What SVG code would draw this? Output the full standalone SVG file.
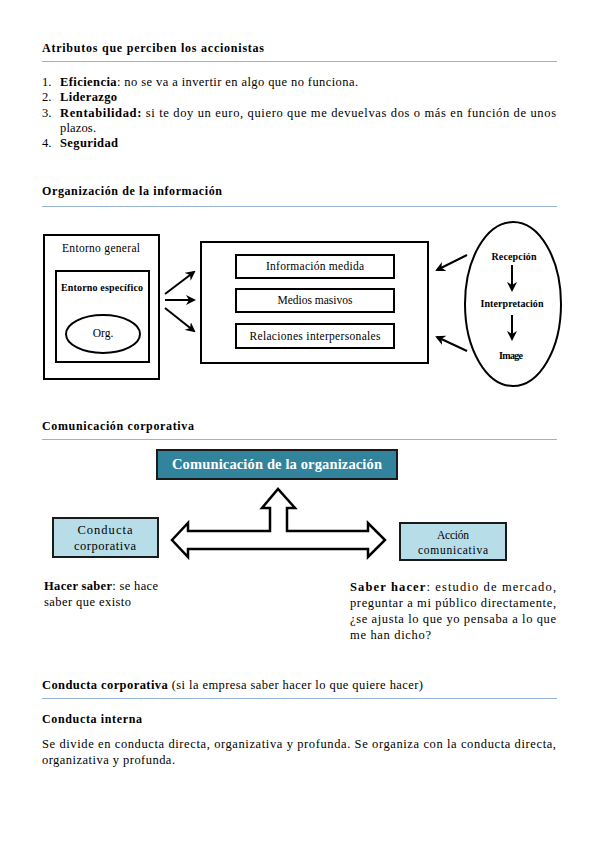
<svg xmlns="http://www.w3.org/2000/svg" width="599" height="848" viewBox="0 0 599 848">
<style>
text{font-family:"Liberation Serif","DejaVu Serif",serif;font-size:12.5px;fill:#000}
.b{font-weight:bold}
.h{font-weight:bold;font-size:12px}
.rule{stroke:#95b3d7;stroke-width:1.2}
.box{fill:#fff;stroke:#000;stroke-width:2}
.ln{stroke:#000;stroke-width:2;fill:none}
.sm{font-size:11.5px}
.xs{font-size:10px}
.c{text-anchor:middle}
</style>
<defs>
<marker id="ah" viewBox="0 0 10 10" refX="8" refY="5" markerWidth="5" markerHeight="5" orient="auto" markerUnits="strokeWidth">
<path d="M0,0 L10,5 L0,10 L3,5 Z" fill="#000"/>
</marker>
</defs>
<rect width="599" height="848" fill="#fff"/>

<!-- Section 1 -->
<text class="h" x="42" y="52" textLength="222">Atributos que perciben los accionistas</text>
<line class="rule" x1="42" y1="61.5" x2="557" y2="61.5"/>
<text x="42" y="86">1.</text>
<text x="60" y="86" textLength="298"><tspan class="b">Eficiencia</tspan>: no se va a invertir en algo que no funciona.</text>
<text x="42" y="101">2.</text>
<text x="60" y="101" class="b" textLength="57">Liderazgo</text>
<text x="42" y="117">3.</text>
<text x="60" y="117" textLength="496"><tspan class="b">Rentabilidad:</tspan> si te doy un euro, quiero que me devuelvas dos o más en función de unos</text>
<text x="60" y="132" textLength="36">plazos.</text>
<text x="42" y="147">4.</text>
<text x="60" y="147" class="b" textLength="58">Seguridad</text>

<!-- Section 2 -->
<text class="h" x="42" y="195" textLength="180">Organización de la información</text>
<line class="rule" x1="42" y1="206.5" x2="557" y2="206.5"/>

<g id="entorno-general">
<rect class="box" x="44" y="235" width="115" height="144"/>
<text class="sm c" x="101" y="252" textLength="78">Entorno general</text>
</g>
<g id="entorno-especifico">
<rect class="box" x="56" y="271" width="93" height="91"/>
<text class="xs c b" x="102" y="291" textLength="82">Entorno específico</text>
</g>
<g id="org">
<ellipse class="box" cx="103" cy="334" rx="37" ry="19"/>
<text class="sm c" x="103" y="337">Org.</text>
</g>

<g id="medios">
<rect class="box" x="201" y="242" width="227" height="121"/>
</g>
<g id="info-medida">
<rect class="box" x="236" y="255" width="158" height="23"/>
<text class="sm c" x="315" y="270" textLength="98">Información medida</text>
</g>
<g id="medios-masivos">
<rect class="box" x="236" y="289" width="158" height="23"/>
<text class="sm c" x="315" y="304" textLength="75">Medios masivos</text>
</g>
<g id="relaciones">
<rect class="box" x="236" y="324" width="158" height="24"/>
<text class="sm c" x="315" y="340" textLength="131">Relaciones interpersonales</text>
</g>

<g id="publico">
<ellipse class="box" cx="513" cy="304" rx="48" ry="82"/>
<text class="xs c b" x="514" y="260" textLength="45">Recepción</text>
<text class="xs c b" x="512" y="307" textLength="63">Interpretación</text>
<text class="xs c b" x="511" y="359" textLength="24">Image</text>
</g>

<g id="connectors1">
<line class="ln" x1="165" y1="294" x2="194" y2="272" marker-end="url(#ah)"/>
<line class="ln" x1="165" y1="300" x2="194" y2="300" marker-end="url(#ah)"/>
<line class="ln" x1="165" y1="308" x2="194" y2="331" marker-end="url(#ah)"/>
<line class="ln" x1="467" y1="255" x2="437" y2="270" marker-end="url(#ah)"/>
<line class="ln" x1="467" y1="351" x2="437" y2="337" marker-end="url(#ah)"/>
<line class="ln" x1="512" y1="265" x2="512" y2="290" marker-end="url(#ah)"/>
<line class="ln" x1="512" y1="315" x2="512" y2="339" marker-end="url(#ah)"/>
</g>

<!-- Section 3 -->
<text class="h" x="42" y="430" textLength="152">Comunicación corporativa</text>
<line class="rule" x1="42" y1="439.5" x2="557" y2="439.5"/>

<g id="comunicacion-organizacion">
<rect x="157" y="450" width="240" height="29" fill="#31849b" stroke="#1a1a1a" stroke-width="2"/>
<text x="277" y="469" class="c b" style="fill:#fff;font-size:14.5px" textLength="210">Comunicación de la organización</text>
</g>
<g id="conducta-corporativa">
<rect x="53" y="518" width="105" height="39" fill="#b7dde8" stroke="#1a1a1a" stroke-width="2"/>
<text class="c" x="105" y="534" textLength="55">Conducta</text>
<text class="c" x="105" y="550" textLength="62">corporativa</text>
</g>
<g id="accion-comunicativa">
<rect x="400" y="523" width="106" height="37" fill="#b7dde8" stroke="#1a1a1a" stroke-width="2"/>
<text class="c sm" x="453" y="539" textLength="32">Acción</text>
<text class="c sm" x="453" y="554" textLength="70">comunicativa</text>
</g>
<g id="connectors2">
<polygon points="172,540 188,523 188,531 270,531 270,508 262,508 278,489 295,508 287,508 287,531 368,531 368,523 385,540 368,557 368,549 188,549 188,557" fill="#fff" stroke="#000" stroke-width="2.5" stroke-linejoin="miter"/>
</g>

<text x="44" y="590" textLength="114"><tspan class="b">Hacer saber</tspan>: se hace</text>
<text x="44" y="606" textLength="87">saber que existo</text>
<text x="350" y="591" textLength="206"><tspan class="b">Saber hacer</tspan>: estudio de mercado,</text>
<text x="350" y="607" textLength="206">preguntar a mi público directamente,</text>
<text x="350" y="623" textLength="206">¿se ajusta lo que yo pensaba a lo que</text>
<text x="350" y="639" textLength="81">me han dicho?</text>

<!-- Section 4 -->
<text x="42" y="689" textLength="381"><tspan class="b">Conducta corporativa</tspan> (si la empresa saber hacer lo que quiere hacer)</text>
<line class="rule" x1="42" y1="698.5" x2="557" y2="698.5"/>
<text class="h" x="42" y="723" textLength="100">Conducta interna</text>
<text x="42" y="748" textLength="514">Se divide en conducta directa, organizativa y profunda.  Se organiza con la conducta directa,</text>
<text x="42" y="764" textLength="133">organizativa y profunda.</text>
</svg>
